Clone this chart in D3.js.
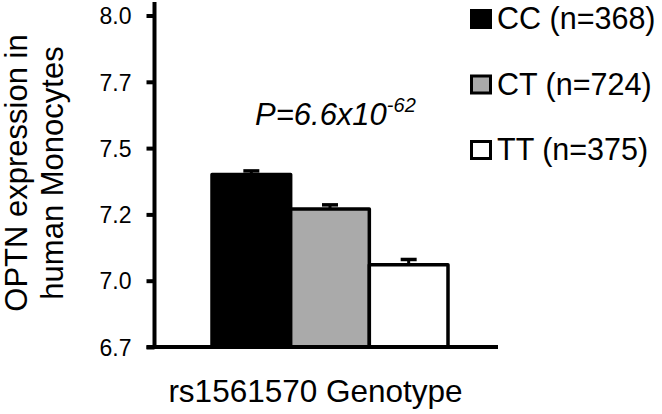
<!DOCTYPE html>
<html><head><meta charset="utf-8">
<script src="https://cdn.jsdelivr.net/npm/d3@7"></script>
<style>body{margin:0;background:#fff}svg{display:block}text{font-family:"Liberation Sans",Arial,sans-serif;fill:#000}</style>
</head><body><svg id="c" width="662" height="414"></svg>
<script>
const genotypes = ["CC","CT","TT"];
const counts = [368, 724, 375];
const means = [7.40, 7.27, 7.06];
const errors = [0.014, 0.016, 0.02];
const fills = ["#000000","#aaaaaa","#ffffff"];
const tickValues = [6.75, 7.0, 7.25, 7.5, 7.75, 8.0];
const tickLabels = ["6.7","7.0","7.2","7.5","7.7","8.0"];
const yLabelLines = ["OPTN expression in","human Monocytes"];
const xLabel = "rs1561570 Genotype";
const pBase = "P=6.6x10", pExp = "-62";

const svg = d3.select("#c");
const y = d3.scaleLinear().domain([6.75, 8.0]).range([347, 15.5]);
const x = d3.scaleBand().domain(genotypes).range([212, 448]).paddingInner(0).paddingOuter(0);
const axisX = 154.5;

// y axis
const yAxis = d3.axisLeft(y).tickValues(tickValues).tickSize(8).tickSizeOuter(0)
  .tickFormat((d,i)=>tickLabels[i]);
const gy = svg.append("g").attr("transform",`translate(${axisX},0)`).call(yAxis);
gy.select(".domain").remove();
gy.selectAll(".tick line").attr("stroke","#000").attr("stroke-width",4);
gy.selectAll(".tick text").attr("x",-23).attr("dy","0.36em").attr("font-size",23).style("font-family","Liberation Sans, Arial, sans-serif").attr("fill","#000");

// bars
svg.selectAll("rect.bar").data(genotypes).enter().append("rect").attr("class","bar")
  .attr("x",d=>x(d)).attr("width",x.bandwidth())
  .attr("y",(d,i)=>y(means[i])).attr("height",(d,i)=>y(6.75)-y(means[i]))
  .attr("fill",(d,i)=>fills[i]).attr("stroke","#000").attr("stroke-width",3.5).attr("stroke-linejoin","round");

// error bars
const eb = svg.selectAll("g.eb").data(genotypes).enter().append("g");
eb.append("line").attr("x1",d=>x(d)+x.bandwidth()/2).attr("x2",d=>x(d)+x.bandwidth()/2)
  .attr("y1",(d,i)=>y(means[i])).attr("y2",(d,i)=>y(means[i]+errors[i])).attr("stroke","#000").attr("stroke-width",3);
eb.append("line").attr("x1",d=>x(d)+x.bandwidth()/2-8).attr("x2",d=>x(d)+x.bandwidth()/2+8)
  .attr("y1",(d,i)=>y(means[i]+errors[i])).attr("y2",(d,i)=>y(means[i]+errors[i])).attr("stroke","#000").attr("stroke-width",3.5);

// axis lines
svg.append("line").attr("x1",axisX).attr("x2",axisX).attr("y1",2).attr("y2",y(6.75)+2).attr("stroke","#000").attr("stroke-width",4);
svg.append("line").attr("x1",146.5).attr("x2",498).attr("y1",y(6.75)).attr("y2",y(6.75)).attr("stroke","#000").attr("stroke-width",4);

// y label
const yl = svg.append("text").attr("transform","translate(0,173) rotate(-90)").attr("text-anchor","middle").attr("font-size",31);
yl.selectAll("tspan").data(yLabelLines).enter().append("tspan").attr("x",0).attr("y",(d,i)=>27+i*35.5).text(d=>d);

// x label
svg.append("text").attr("x",315.5).attr("y",402).attr("text-anchor","middle").attr("font-size",31.5).text(xLabel);

// p value
const pt = svg.append("text").attr("x",255).attr("y",125).attr("font-size",31).attr("font-style","italic");
pt.append("tspan").text(pBase);
pt.append("tspan").attr("dy",-13).attr("font-size",20).text(pExp);

// legend
const lg = svg.selectAll("g.lg").data(genotypes).enter().append("g").attr("transform",(d,i)=>`translate(470,${9+i*65.5})`);
lg.append("rect").attr("x",1.5).attr("y",1.5).attr("width",19).attr("height",17).attr("fill",(d,i)=>fills[i]).attr("stroke","#000").attr("stroke-width",3);
lg.append("text").attr("x",27).attr("y",20).attr("font-size",30.5).text((d,i)=>`${d} (n=${counts[i]})`);
</script></body></html>
